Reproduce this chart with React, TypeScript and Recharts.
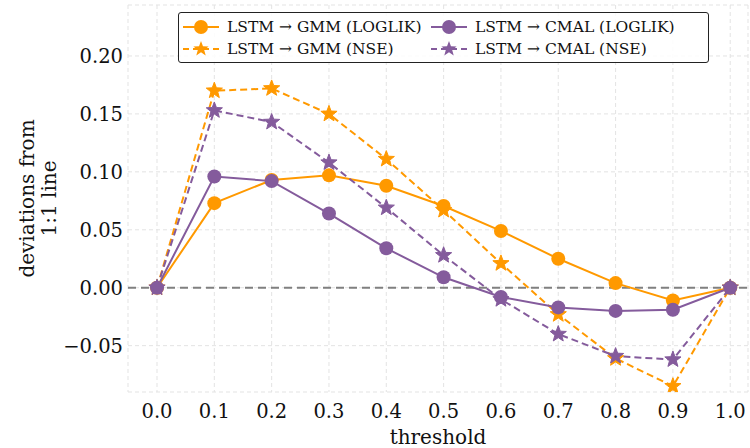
import React from 'react';
import {
  LineChart,
  Line,
  XAxis,
  YAxis,
  CartesianGrid,
  ReferenceLine,
  Legend,
  Label,
} from 'recharts';

const thresholds = [0.0, 0.1, 0.2, 0.3, 0.4, 0.5, 0.6, 0.7, 0.8, 0.9, 1.0];
const gmmLoglik = [0, 0.073, 0.093, 0.097, 0.088, 0.0705, 0.049, 0.025, 0.004, -0.011, 0];
const gmmNse = [0, 0.17, 0.172, 0.15, 0.111, 0.067, 0.021, -0.023, -0.061, -0.085, 0];
const cmalLoglik = [0, 0.096, 0.092, 0.064, 0.034, 0.009, -0.008, -0.017, -0.02, -0.019, 0];
const cmalNse = [0, 0.153, 0.143, 0.108, 0.069, 0.028, -0.01, -0.04, -0.059, -0.062, 0];

const xTicks = [0, 0.1, 0.2, 0.3, 0.4, 0.5, 0.6, 0.7, 0.8, 0.9, 1.0];
const yTicks = [-0.05, 0, 0.05, 0.1, 0.15, 0.2];

const ORANGE = '#FF9900';
const PURPLE = '#845B9C';
const FONT = '"DejaVu Serif", "Liberation Serif", serif';

const data = thresholds.map((t, i) => ({
  t,
  gmmLoglik: gmmLoglik[i],
  gmmNse: gmmNse[i],
  cmalLoglik: cmalLoglik[i],
  cmalNse: cmalNse[i],
}));

const series = [
  { key: 'gmmLoglik', name: 'LSTM \u2192 GMM (LOGLIK)', color: ORANGE, dashed: false, star: false },
  { key: 'gmmNse', name: 'LSTM \u2192 GMM (NSE)', color: ORANGE, dashed: true, star: true },
  { key: 'cmalLoglik', name: 'LSTM \u2192 CMAL (LOGLIK)', color: PURPLE, dashed: false, star: false },
  { key: 'cmalNse', name: 'LSTM \u2192 CMAL (NSE)', color: PURPLE, dashed: true, star: true },
];

function starPoints(cx: number, cy: number, r: number) {
  const pts: string[] = [];
  for (let i = 0; i < 10; i++) {
    const rad = i % 2 === 0 ? r : r * 0.42;
    const a = -Math.PI / 2 + (i * Math.PI) / 5;
    pts.push(`${cx + rad * Math.cos(a)},${cy + rad * Math.sin(a)}`);
  }
  return pts.join(' ');
}

const makeDot = (color: string, star: boolean) => (props: any) => {
  const { cx, cy, index } = props;
  if (cx == null || cy == null) return <g key={index} />;
  return star ? (
    <polygon key={index} points={starPoints(cx, cy, 8.5)} fill={color} stroke={color} strokeWidth={1} />
  ) : (
    <circle key={index} cx={cx} cy={cy} r={7} fill={color} />
  );
};

const renderLegend = () => (
  <div
    style={{
      border: '1.2px solid #222',
      borderRadius: 3,
      background: 'rgba(255,255,255,0.85)',
      display: 'grid',
      gridAutoFlow: 'column',
      gridTemplateColumns: '248px 280px',
      gridTemplateRows: '22px 22px',
      padding: '3px 0 2px 0',
      fontFamily: FONT,
      fontSize: 15.5,
      color: '#111',
      boxSizing: 'border-box',
      height: 51,
      lineHeight: '20px',
    }}
  >
    {series.map((s) => (
      <div key={s.key} style={{ display: 'flex', alignItems: 'center', paddingLeft: 2, fontFamily: FONT }}>
        <svg width={40} height={20} style={{ marginRight: 6 }}>
          <line
            x1={2}
            x2={38}
            y1={10}
            y2={10}
            stroke={s.color}
            strokeWidth={2}
            strokeDasharray={s.dashed ? '6 4' : undefined}
          />
          {s.star ? (
            <polygon points={starPoints(20, 10, 8)} fill={s.color} />
          ) : (
            <circle cx={20} cy={10} r={7} fill={s.color} />
          )}
        </svg>
        <span style={{ fontFamily: FONT }}>{s.name}</span>
      </div>
    ))}
  </div>
);

const yLabel = (props: any) => {
  const { viewBox } = props;
  const cy = viewBox.y + viewBox.height / 2;
  return (
    <text
      transform={`rotate(-90, 38, ${cy})`}
      x={38}
      y={cy}
      textAnchor="middle"
      style={{ fontFamily: FONT, fontSize: 20 }}
      fill="#111"
    >
      <tspan x={38} dy={-4}>deviations from</tspan>
      <tspan x={38} dy={22}>1:1 line</tspan>
    </text>
  );
};

const xLabel = (props: any) => {
  const { viewBox } = props;
  const cx = viewBox.x + viewBox.width / 2;
  return (
    <text x={cx} y={444} textAnchor="middle" style={{ fontFamily: FONT, fontSize: 20 }} fill="#111">
      threshold
    </text>
  );
};

const fmt = (v: number, digits: number) => v.toFixed(digits).replace('-', '\u2212');

export default function App() {
  return (
    <div style={{ position: 'absolute', left: 0, top: 0, width: 750, height: 448, background: '#fff' }}>
      <LineChart width={750} height={448} data={data} margin={{ top: 5, right: 2, bottom: 0, left: 0 }}>
        <CartesianGrid stroke="#e3e3e3" strokeDasharray="4 3" vertical horizontal />
        <XAxis
          dataKey="t"
          type="number"
          domain={[-0.0506, 1.031]}
          ticks={xTicks}
          allowDataOverflow
          axisLine={false}
          tickLine={false}
          tickSize={0}
          tickMargin={12}
          height={56}
          tick={{ fontFamily: FONT, fontSize: 19.5, fill: '#111', style: { fontFamily: FONT } }}
          tickFormatter={(v: number) => fmt(v, 1)}
        >
          <Label content={xLabel} />
        </XAxis>
        <YAxis
          type="number"
          domain={[-0.09, 0.244]}
          ticks={yTicks}
          allowDataOverflow
          axisLine={false}
          tickLine={false}
          tickSize={0}
          tickMargin={5}
          width={128}
          tick={{ fontFamily: FONT, fontSize: 19.5, fill: '#111', style: { fontFamily: FONT } }}
          tickFormatter={(v: number) => fmt(v, 2)}
        >
          <Label content={yLabel} />
        </YAxis>
        <ReferenceLine y={0} stroke="#808080" strokeWidth={2} strokeDasharray="8 5" />
        <Legend
          layout="horizontal"
          verticalAlign="middle"
          align="center"
          wrapperStyle={{ top: 12, left: 178, width: 531, height: 51 }}
          content={renderLegend}
        />
        {series.map((s) => (
          <Line
            key={s.key}
            dataKey={s.key}
            name={s.name}
            stroke={s.color}
            strokeWidth={2}
            strokeDasharray={s.dashed ? '7 4' : undefined}
            dot={makeDot(s.color, s.star)}
            activeDot={false}
            isAnimationActive={false}
          />
        ))}
      </LineChart>
    </div>
  );
}
